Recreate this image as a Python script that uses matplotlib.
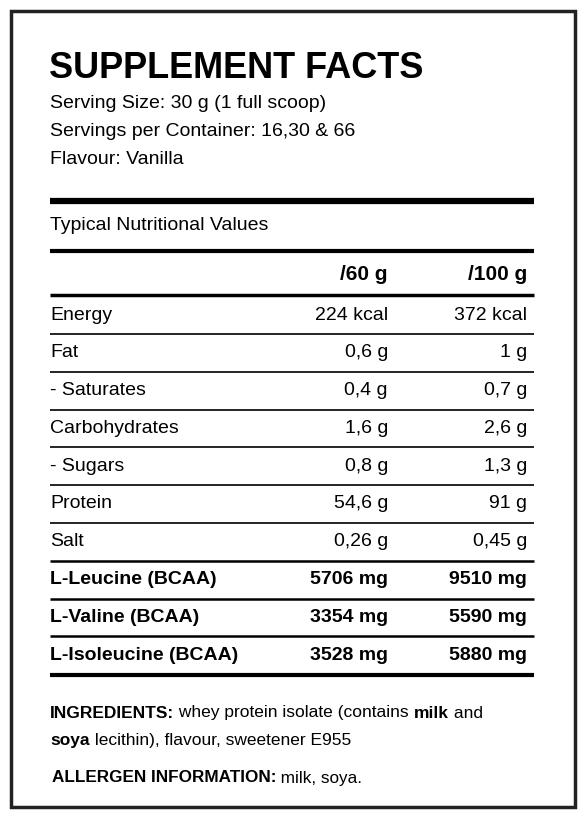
import matplotlib
matplotlib.use("Agg")
import matplotlib.pyplot as plt
from matplotlib.patches import Rectangle

title = "SUPPLEMENT FACTS"
info_lines = ["Serving Size: 30 g (1 full scoop)", "Servings per Container: 16,30 & 66", "Flavour: Vanilla"]
table_title = "Typical Nutritional Values"
col_headers = ["/60 g", "/100 g"]
nutrients = ["Energy", "Fat", "- Saturates", "Carbohydrates", "- Sugars", "Protein", "Salt",
             "L-Leucine (BCAA)", "L-Valine (BCAA)", "L-Isoleucine (BCAA)"]
per60 = ["224 kcal", "0,6 g", "0,4 g", "1,6 g", "0,8 g", "54,6 g", "0,26 g", "5706 mg", "3354 mg", "3528 mg"]
per100 = ["372 kcal", "1 g", "0,7 g", "2,6 g", "1,3 g", "91 g", "0,45 g", "9510 mg", "5590 mg", "5880 mg"]
bold_rows = [False]*7 + [True]*3
ingredients1 = [("INGREDIENTS:", True), (" whey protein isolate (contains ", False), ("milk", True), (" and", False)]
ingredients2 = [("soya", True), (" lecithin), flavour, sweetener E955", False)]
allergen = [("ALLERGEN INFORMATION:", True), (" milk, soya.", False)]

W, H = 586, 818
fig = plt.figure(figsize=(W/100, H/100), dpi=100)
ax = fig.add_axes([0, 0, 1, 1])
ax.set_xlim(0, W); ax.set_ylim(H, 0); ax.axis("off")
FONT = "Liberation Sans"

ax.add_patch(Rectangle((11, 11), 564, 796, fill=False, lw=2.5, ec="#222"))
ax.text(49, 68, title, fontsize=26, fontweight="bold", family=FONT, va="center", ha="left")
for i, s in enumerate(info_lines):
    ax.text(50, 104 + 28*i, s, fontsize=14, family=FONT, va="center")

def hline(y, lw):
    ax.plot([50, 534], [y, y], color="black", lw=lw, solid_capstyle="butt")

hline(201, 4.5)
ax.text(50, 226, table_title, fontsize=14, family=FONT, va="center")
hline(251, 3)
ax.text(388, 275, col_headers[0], fontsize=15, fontweight="bold", family=FONT, va="center", ha="right")
ax.text(527, 275, col_headers[1], fontsize=15, fontweight="bold", family=FONT, va="center", ha="right")
hline(295, 2.5)
y0, dy = 315, 37.8
for i, (n, a, b, bd) in enumerate(zip(nutrients, per60, per100, bold_rows)):
    y = y0 + dy*i
    w = "bold" if bd else "normal"
    ax.text(50, y, n, fontsize=14, fontweight=w, family=FONT, va="center")
    ax.text(388, y, a, fontsize=14, fontweight=w, family=FONT, va="center", ha="right")
    ax.text(527, y, b, fontsize=14, fontweight=w, family=FONT, va="center", ha="right")
    if i < len(nutrients) - 1:
        hline(y + 19, 1.8 if i >= 6 else 1.2)
hline(y0 + dy*9 + 19.5, 3)

fig.canvas.draw()
r = fig.canvas.get_renderer()
inv = ax.transData.inverted()
def runs(x, y, segs, fs):
    for s, b in segs:
        t = ax.text(x, y, s, fontsize=fs, fontweight="bold" if b else "normal", family=FONT, va="center")
        bb = t.get_window_extent(r)
        x = x + (inv.transform((bb.x1, 0))[0] - inv.transform((bb.x0, 0))[0])

runs(50, 713, ingredients1, 12.5)
runs(50, 741, ingredients2, 12.5)
runs(52, 778, allergen, 12.3)
fig.savefig("out.png", dpi=100, facecolor="white")
